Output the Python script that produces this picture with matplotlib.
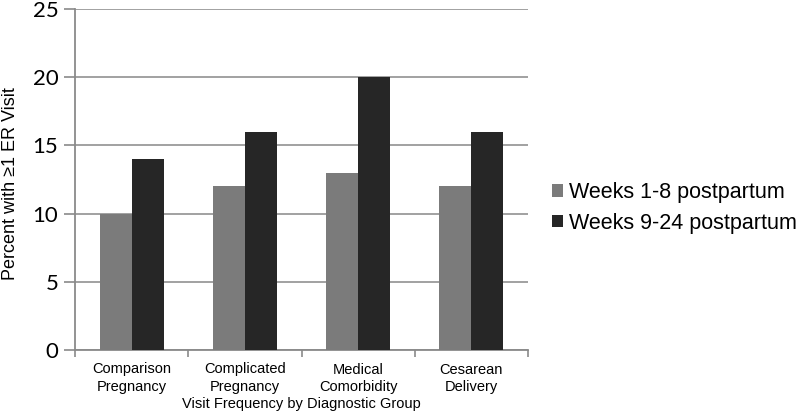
import matplotlib
matplotlib.use("Agg")
import matplotlib.pyplot as plt
import numpy as np

categories = ["Comparison\nPregnancy", "Complicated\nPregnancy", "Medical\nComorbidity", "Cesarean\nDelivery"]
weeks_1_8 = [10, 12, 13, 12]
weeks_9_24 = [14, 16, 20, 16]
series_names = ["Weeks 1-8 postpartum", "Weeks 9-24 postpartum"]
yticks = [0, 5, 10, 15, 20, 25]

fig = plt.figure(figsize=(8, 4.16), dpi=100)
ax = fig.add_axes([75/800, 1-350/416, (528-75)/800, (350-9)/416])

x = np.arange(len(categories))
w = 0.283
ax.bar(x - w/2, weeks_1_8, w, color="#7b7b7b", label=series_names[0], zorder=3)
ax.bar(x + w/2, weeks_9_24, w, color="#262626", label=series_names[1], zorder=3)

ax.set_xlim(-0.5, len(categories) - 0.5)
ax.set_ylim(0, 25)
ax.set_yticks(yticks)
ax.set_yticklabels([str(t) for t in yticks], fontsize=16, family="Lato")
ax.yaxis.grid(True, color="#9a9a9a", linewidth=1.3, zorder=0)
ax.set_axisbelow(True)

ax.set_xticks(np.arange(len(categories) + 1) - 0.5)
ax.set_xticklabels([])
ax.set_xticks(x, minor=True)
ax.set_xticklabels(categories, minor=True, fontsize=10.5, family="Liberation Sans", linespacing=1.35)
ax.tick_params(axis="x", which="minor", length=0, pad=9)
ax.tick_params(axis="x", which="major", length=5, color="#8a8a8a", width=1.2, direction="out")
ax.tick_params(axis="y", length=8, color="#8a8a8a", width=1.2, pad=4)

for s in ["top", "right"]:
    ax.spines[s].set_visible(False)
for s in ["left", "bottom"]:
    ax.spines[s].set_color("#8a8a8a")
    ax.spines[s].set_linewidth(1.3)

ax.set_xlabel("Visit Frequency by Diagnostic Group", fontsize=10.5, family="Liberation Sans", labelpad=2)
ax.set_ylabel("Percent with \u22651 ER Visit", fontsize=13, family=["Liberation Sans", "DejaVu Sans"])
ax.yaxis.set_label_coords(-(75 - 19) / (528 - 75), (350 - 184) / (350 - 9))

leg = fig.legend(loc="center left", bbox_to_anchor=(552/800, 1-208/416), frameon=False,
                 prop={"family": "Liberation Sans", "size": 15.5}, handlelength=0.5, handleheight=0.5,
                 handletextpad=0.3, labelspacing=0.45, borderaxespad=0, borderpad=0)

fig.savefig("out.png", dpi=100)
